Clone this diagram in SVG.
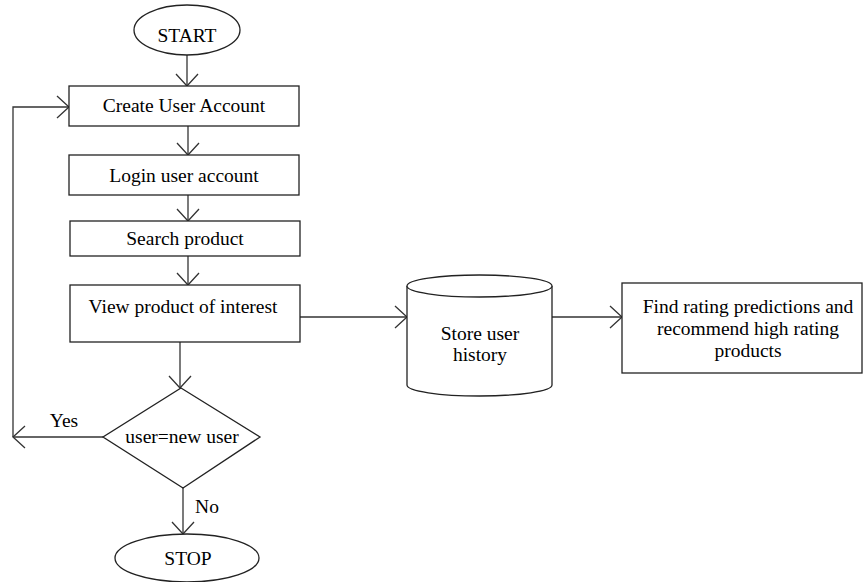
<svg xmlns="http://www.w3.org/2000/svg" width="863" height="582" viewBox="0 0 863 582">
<style>
.s{fill:#fff;stroke:#222;stroke-width:1.3}
.c{fill:none;stroke:#333;stroke-width:1.3}
text{font-family:"Liberation Serif","Times New Roman",serif;font-size:19.5px;fill:#000;text-anchor:middle}
</style>
<defs>
<marker id="a" markerUnits="userSpaceOnUse" markerWidth="30" markerHeight="30" viewBox="-15 -15 30 30" refX="0" refY="0" orient="auto">
<path d="M-12,-11 L0,0 L-12,11" fill="none" stroke="#333" stroke-width="1.3"/>
</marker>
</defs>
<rect width="863" height="582" fill="#fff"/>
<g id="connectors">
<path class="c" d="M187,55 L187,86" marker-end="url(#a)"/>
<path class="c" d="M188,126 L188,155" marker-end="url(#a)"/>
<path class="c" d="M188,195 L188,221" marker-end="url(#a)"/>
<path class="c" d="M188,256 L188,285" marker-end="url(#a)"/>
<path class="c" d="M180,342 L180,388" marker-end="url(#a)"/>
<path class="c" d="M103,437 L13,437" marker-end="url(#a)"/>
<path class="c" d="M13,437 L13,107 L69,107" marker-end="url(#a)"/>
<path class="c" d="M183,488 L183,534" marker-end="url(#a)"/>
<path class="c" d="M300,317 L407,317" marker-end="url(#a)"/>
<path class="c" d="M552,317 L622,317" marker-end="url(#a)"/>
<text x="64" y="427">Yes</text>
<text x="207" y="513">No</text>
</g>
<g id="start">
<ellipse class="s" cx="187" cy="30" rx="53" ry="25"/>
<text x="187" y="42">START</text>
</g>
<g id="create">
<rect class="s" x="69" y="86" width="230" height="40"/>
<text x="184" y="112">Create User Account</text>
</g>
<g id="login">
<rect class="s" x="69" y="155" width="230" height="40"/>
<text x="184" y="182">Login user account</text>
</g>
<g id="search">
<rect class="s" x="70" y="221" width="230" height="35"/>
<text x="185" y="245">Search product</text>
</g>
<g id="view">
<rect class="s" x="70" y="285" width="230" height="57"/>
<text x="183" y="313">View product of interest</text>
</g>
<g id="decision">
<polygon class="s" points="181,388 260,437 183,488 103,437"/>
<text x="182" y="443">user=new user</text>
</g>
<g id="stop">
<ellipse class="s" cx="187" cy="558" rx="72" ry="24"/>
<text x="188" y="565">STOP</text>
</g>
<g id="store">
<path class="s" d="M407,286 L407,385 A72.5,11 0 0 0 552,385 L552,286"/>
<ellipse class="s" cx="479.5" cy="286" rx="72.5" ry="11"/>
<text x="480" y="340">Store user</text>
<text x="480" y="361">history</text>
</g>
<g id="recommend">
<rect class="s" x="622" y="283" width="240" height="90"/>
<text x="748" y="313">Find rating predictions and</text>
<text x="748" y="335">recommend high rating</text>
<text x="748" y="357">products</text>
</g>
</svg>
